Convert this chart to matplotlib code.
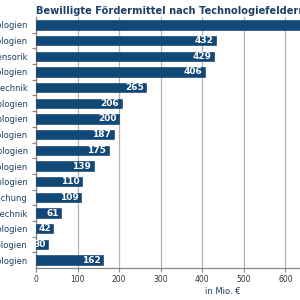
import matplotlib.pyplot as plt

categories = [
    "Informations- und Kommunikationstechnologien",
    "Energietechnologien",
    "Mikrosystemtechnik/Sensorik",
    "Biotechnologien",
    "Produktionstechnik",
    "Nanotechnologien",
    "Umwelttechnologien",
    "Materialtechnologien",
    "Optische Technologien",
    "Medizintechnologien",
    "Mobilitätstechnologien",
    "Grundlagenforschung",
    "Messtechnik",
    "Raumfahrttechnologien",
    "Sicherheitstechnologien",
    "Sonstige Technologien",
]
values = [820, 432, 429, 406, 265, 206, 200, 187, 175, 139, 110, 109, 61, 42, 30, 162]
xticks = [0, 100, 200, 300, 400, 500, 600]

bar_color = "#104878"
text_color = "#1c3f66"
grid_color = "#b4b4b4"

fig = plt.figure(figsize=(3, 3), dpi=100)
# axes runs past the right edge: the reference is a crop of a wider chart
ax = fig.add_axes([36 / 300, 1 - 268 / 300, 374 / 300, 251 / 300])

y = list(range(len(categories)))
ax.barh(y, values, height=0.6, color=bar_color, edgecolor="#0a3560", linewidth=0.4, zorder=3)
for yi, v in zip(y, values):
    ax.text(v - 6, yi, str(v), ha="right", va="center", color="white",
            fontsize=6.5, fontweight="bold", zorder=4)

ax.set_ylim(len(categories) - 0.5, -0.5)
ax.set_xlim(0, 900)
ax.set_xticks(xticks)
ax.set_xticklabels([str(t) for t in xticks], fontsize=5.5, color="#333333")
ax.set_yticks(y)
ax.set_yticklabels(categories, fontsize=6, color=text_color)
ax.set_yticks([i + 0.5 for i in y[:-1]], minor=True)
ax.tick_params(axis="y", which="major", length=0, pad=6)
ax.tick_params(axis="y", which="minor", length=3, color="#888888", width=0.8)
ax.tick_params(axis="x", length=3, color="#888888", width=0.8, pad=2)

for t in [700, 800]:
    ax.axvline(t, color=grid_color, linewidth=0.9, zorder=0)
ax.grid(axis="x", color=grid_color, linewidth=0.9, zorder=0)
for s in ["top", "right"]:
    ax.spines[s].set_visible(False)
ax.spines["left"].set_color("#888888")
ax.spines["bottom"].set_color("#888888")
ax.spines["left"].set_linewidth(0.9)
ax.spines["bottom"].set_linewidth(0.9)

ax.set_xlabel("in Mio. €", fontsize=6, color=text_color, labelpad=2)

fig.text(36 / 300, 1 - 11 / 300, "Bewilligte Fördermittel nach Technologiefeldern",
         ha="left", va="center", fontsize=7.1, fontweight="bold", color=text_color)

fig.savefig("out.png", dpi=100)
